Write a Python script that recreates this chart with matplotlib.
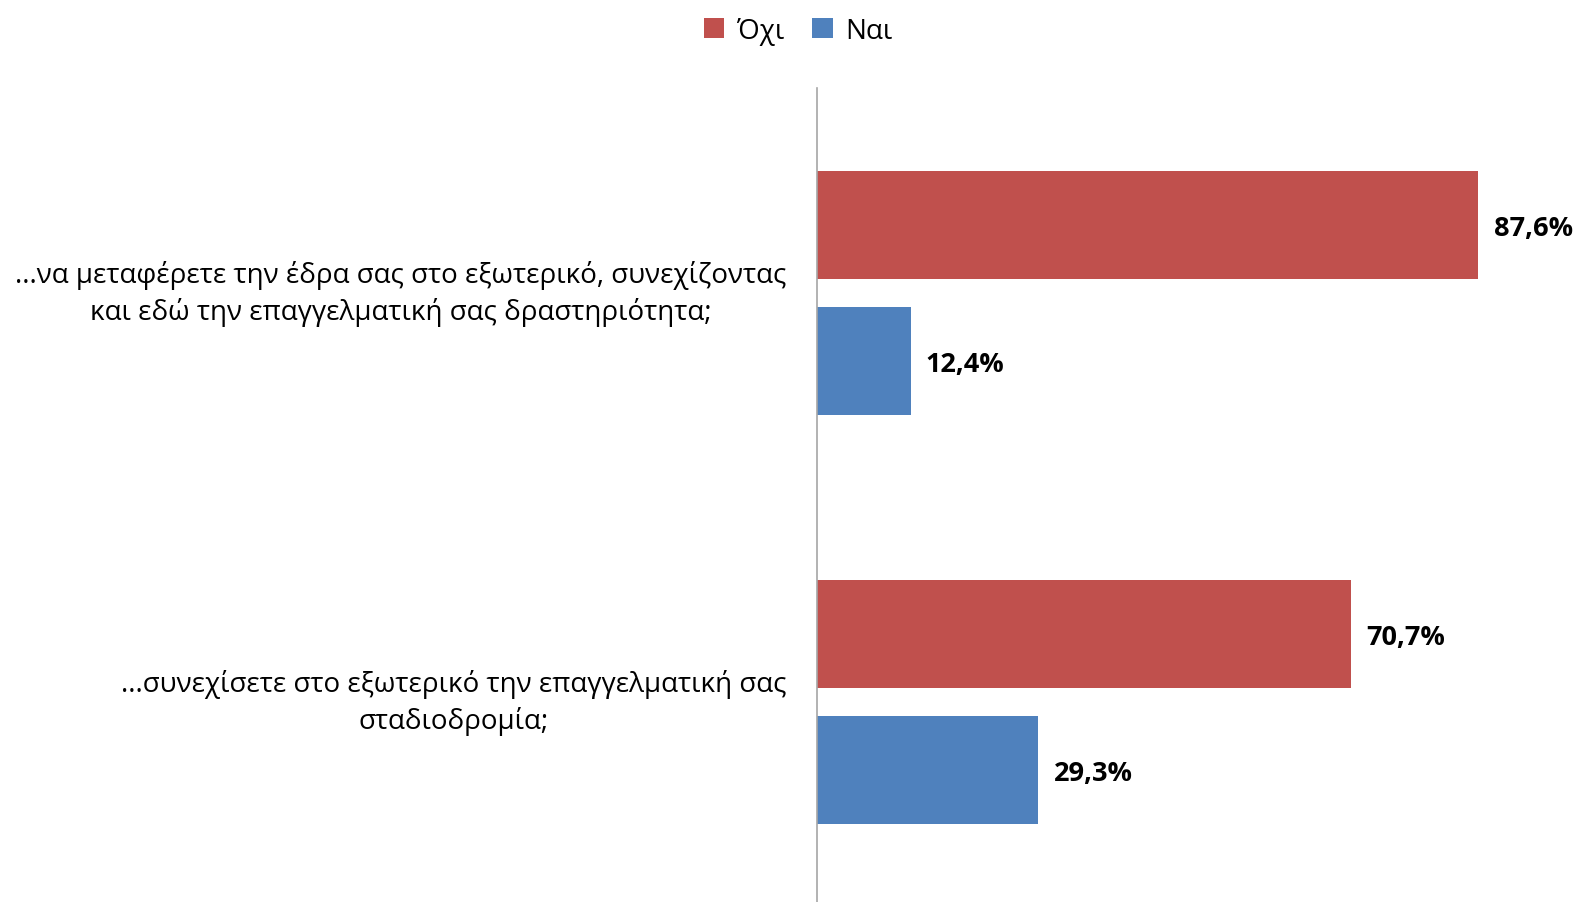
import matplotlib.pyplot as plt
from matplotlib.patches import Patch

plt.rcParams["font.family"] = ["Open Sans", "DejaVu Sans"]

questions = [
    "...να μεταφέρετε την έδρα σας στο εξωτερικό, συνεχίζοντας\nκαι εδώ την επαγγελματική σας δραστηριότητα;",
    "...συνεχίσετε στο εξωτερικό την επαγγελματική σας\nσταδιοδρομία;",
]
series_names = ["Όχι", "Ναι"]
no_values = [87.6, 70.7]
yes_values = [12.4, 29.3]
colors = ["#C0504D", "#4F81BD"]

fig = plt.figure(figsize=(15.79, 9.03), dpi=100)
ax = fig.add_axes([817 / 1579, 0.0, 1 - 817 / 1579 - 7 / 1579, 1 - 89 / 903])

pos = list(range(len(questions)))
bar_h = 0.263
off = 0.166

for i, (vals, col) in enumerate(zip([no_values, yes_values], colors)):
    ys = [p + (off if i else -off) for p in pos]
    ax.barh(ys, vals, height=bar_h, color=col, label=series_names[i])
    for y, v in zip(ys, vals):
        ax.annotate(
            f"{v:.1f}%".replace(".", ","),
            xy=(v, y),
            xytext=(11, -2),
            textcoords="offset points",
            ha="left",
            va="center",
            fontsize=19.5,
            fontweight="bold",
            color="#000000",
        )

# category labels, right-aligned left of the axis
for p, q in zip(pos, questions):
    ax.annotate(
        q,
        xy=(0, p),
        xycoords=("axes fraction", "data"),
        xytext=(-22.3, 0),
        textcoords="offset points",
        ha="right",
        va="center",
        multialignment="center",
        fontsize=20,
        linespacing=1.4,
        color="#000000",
    )

ax.set_xlim(0, 100)
ax.set_ylim(1.489, -0.501)
ax.set_yticks([])
ax.set_xticks([])

for side in ["top", "right", "bottom"]:
    ax.spines[side].set_visible(False)
ax.spines["left"].set_color("#A6A6A6")
ax.spines["left"].set_linewidth(1.2)

handles = [Patch(facecolor=c, edgecolor="none") for c in colors]
fig.legend(
    handles,
    series_names,
    loc="center",
    bbox_to_anchor=(798 / 1579, 1 - 32 / 903),
    ncol=2,
    frameon=False,
    fontsize=20,
    handlelength=0.75,
    handleheight=0.75,
    handletextpad=0.45,
    columnspacing=1.0,
)

fig.savefig("out.png", dpi=100)
